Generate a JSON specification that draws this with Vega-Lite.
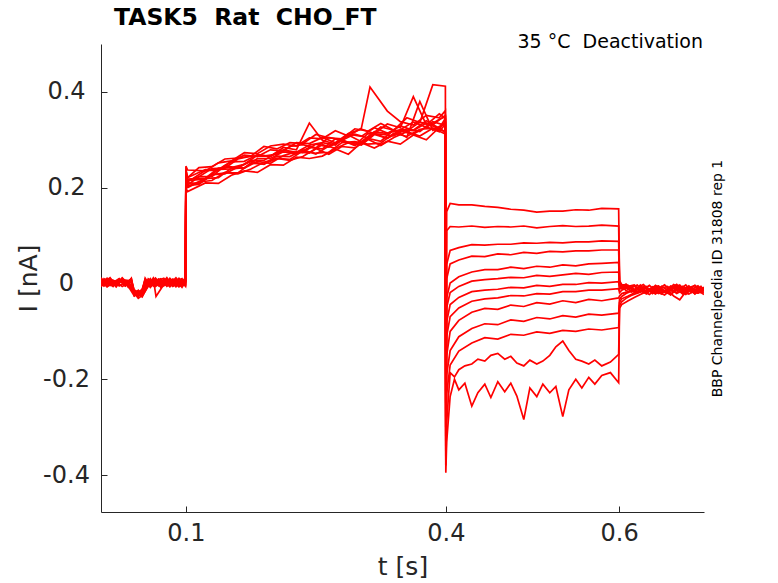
{
"$schema": "https://vega.github.io/schema/vega-lite/v6.json",
"width": 603, "height": 468,
"autosize": {"type": "none"},
"padding": {"left": 101, "top": 44, "right": 74, "bottom": 71},
"background": "white",
"config": {"view": {"stroke": null}, "font": "DejaVu Sans"},
"title": {"text": "TASK5\u00a0\u00a0Rat\u00a0\u00a0CHO_FT", "anchor": "start", "frame": "group", "dx": 13, "offset": -15, "baseline": "alphabetic", "font": "DejaVu Sans", "fontSize": 23.5, "fontWeight": "bold", "color": "black"},
"data": {"values": [
{"s":1,"t":0.002,"I":0.008},{"s":1,"t":0.0055,"I":-0.004},{"s":1,"t":0.0125,"I":0.01},{"s":1,"t":0.0195,"I":-0.002},{"s":1,"t":0.0265,"I":0.006},{"s":1,"t":0.0335,"I":-0.006},{"s":1,"t":0.0405,"I":-0.018},{"s":1,"t":0.045,"I":-0.022},{"s":1,"t":0.0495,"I":-0.014},{"s":1,"t":0.0565,"I":0.007},{"s":1,"t":0.0625,"I":-0.003},{"s":1,"t":0.0685,"I":0.009},{"s":1,"t":0.0745,"I":-0.005},{"s":1,"t":0.0815,"I":0.011},{"s":1,"t":0.0885,"I":-0.002},{"s":1,"t":0.0955,"I":0.006},{"s":1,"t":0.0995,"I":0.001},
{"s":1,"t":0.1,"I":0.237},{"s":1,"t":0.102,"I":0.221},{"s":1,"t":0.1225,"I":0.238},{"s":1,"t":0.1375,"I":0.238},{"s":1,"t":0.1525,"I":0.255},{"s":1,"t":0.1675,"I":0.268},{"s":1,"t":0.1825,"I":0.265},{"s":1,"t":0.1975,"I":0.279},{"s":1,"t":0.2125,"I":0.277},{"s":1,"t":0.2275,"I":0.294},{"s":1,"t":0.2425,"I":0.292},{"s":1,"t":0.2575,"I":0.305},{"s":1,"t":0.2725,"I":0.294},{"s":1,"t":0.2875,"I":0.313},{"s":1,"t":0.3025,"I":0.322},{"s":1,"t":0.3175,"I":0.313},{"s":1,"t":0.3325,"I":0.333},{"s":1,"t":0.3475,"I":0.325},{"s":1,"t":0.3625,"I":0.39},{"s":1,"t":0.3775,"I":0.331},{"s":1,"t":0.3925,"I":0.354},{"s":1,"t":0.3995,"I":0.345},
{"s":1,"t":0.4,"I":-0.2},{"s":1,"t":0.401,"I":0.15},{"s":1,"t":0.405,"I":0.167},{"s":1,"t":0.415,"I":0.164},{"s":1,"t":0.43,"I":0.164},{"s":1,"t":0.445,"I":0.161},{"s":1,"t":0.46,"I":0.159},{"s":1,"t":0.475,"I":0.155},{"s":1,"t":0.49,"I":0.153},{"s":1,"t":0.505,"I":0.149},{"s":1,"t":0.52,"I":0.151},{"s":1,"t":0.535,"I":0.151},{"s":1,"t":0.55,"I":0.154},{"s":1,"t":0.565,"I":0.153},{"s":1,"t":0.58,"I":0.157},{"s":1,"t":0.5995,"I":0.156},
{"s":1,"t":0.6005,"I":0.006},{"s":1,"t":0.603,"I":-0.002},{"s":1,"t":0.6105,"I":-0.004},{"s":1,"t":0.6175,"I":-0.016},{"s":1,"t":0.6245,"I":-0.003},{"s":1,"t":0.6315,"I":-0.019},{"s":1,"t":0.6385,"I":-0.008},{"s":1,"t":0.6455,"I":-0.005},{"s":1,"t":0.6525,"I":-0.018},{"s":1,"t":0.6595,"I":-0.01},{"s":1,"t":0.6665,"I":-0.002},{"s":1,"t":0.6735,"I":-0.017},{"s":1,"t":0.6805,"I":-0.007},{"s":1,"t":0.6875,"I":-0.021},{"s":1,"t":0.6945,"I":-0.009},{"s":1,"t":0.698,"I":-0.012},
{"s":2,"t":0.002,"I":-0.003},{"s":2,"t":0.009,"I":0.009},{"s":2,"t":0.016,"I":-0.006},{"s":2,"t":0.023,"I":0.007},{"s":2,"t":0.03,"I":-0.005},{"s":2,"t":0.037,"I":0.011},{"s":2,"t":0.0405,"I":-0.024},{"s":2,"t":0.045,"I":-0.016},{"s":2,"t":0.0495,"I":-0.02},{"s":2,"t":0.053,"I":-0.004},{"s":2,"t":0.059,"I":0.01},{"s":2,"t":0.065,"I":-0.006},{"s":2,"t":0.071,"I":0.008},{"s":2,"t":0.078,"I":-0.003},{"s":2,"t":0.085,"I":0.009},{"s":2,"t":0.092,"I":-0.007},{"s":2,"t":0.0995,"I":0.005},
{"s":2,"t":0.1,"I":0.21},{"s":2,"t":0.102,"I":0.21},{"s":2,"t":0.115,"I":0.209},{"s":2,"t":0.13,"I":0.227},{"s":2,"t":0.145,"I":0.229},{"s":2,"t":0.16,"I":0.243},{"s":2,"t":0.175,"I":0.255},{"s":2,"t":0.19,"I":0.249},{"s":2,"t":0.205,"I":0.266},{"s":2,"t":0.22,"I":0.265},{"s":2,"t":0.235,"I":0.279},{"s":2,"t":0.25,"I":0.27},{"s":2,"t":0.265,"I":0.287},{"s":2,"t":0.28,"I":0.299},{"s":2,"t":0.295,"I":0.288},{"s":2,"t":0.31,"I":0.303},{"s":2,"t":0.325,"I":0.297},{"s":2,"t":0.34,"I":0.321},{"s":2,"t":0.355,"I":0.305},{"s":2,"t":0.37,"I":0.38},{"s":2,"t":0.385,"I":0.32},{"s":2,"t":0.3995,"I":0.335},
{"s":2,"t":0.4,"I":-0.25},{"s":2,"t":0.401,"I":0.11},{"s":2,"t":0.405,"I":0.119},{"s":2,"t":0.415,"I":0.118},{"s":2,"t":0.43,"I":0.12},{"s":2,"t":0.445,"I":0.117},{"s":2,"t":0.46,"I":0.119},{"s":2,"t":0.475,"I":0.118},{"s":2,"t":0.49,"I":0.12},{"s":2,"t":0.505,"I":0.116},{"s":2,"t":0.52,"I":0.119},{"s":2,"t":0.535,"I":0.121},{"s":2,"t":0.55,"I":0.119},{"s":2,"t":0.565,"I":0.12},{"s":2,"t":0.58,"I":0.122},{"s":2,"t":0.5995,"I":0.12},
{"s":2,"t":0.6005,"I":0.004},{"s":2,"t":0.603,"I":-0.006},{"s":2,"t":0.608,"I":-0.001},{"s":2,"t":0.614,"I":-0.012},{"s":2,"t":0.621,"I":-0.02},{"s":2,"t":0.628,"I":-0.006},{"s":2,"t":0.635,"I":-0.015},{"s":2,"t":0.642,"I":-0.004},{"s":2,"t":0.649,"I":-0.013},{"s":2,"t":0.656,"I":-0.02},{"s":2,"t":0.663,"I":-0.008},{"s":2,"t":0.67,"I":-0.003},{"s":2,"t":0.677,"I":-0.016},{"s":2,"t":0.684,"I":-0.009},{"s":2,"t":0.691,"I":-0.019},{"s":2,"t":0.698,"I":-0.01},
{"s":3,"t":0.002,"I":0.005},{"s":3,"t":0.0055,"I":-0.002},{"s":3,"t":0.0125,"I":0.008},{"s":3,"t":0.0195,"I":-0.007},{"s":3,"t":0.0265,"I":0.012},{"s":3,"t":0.0335,"I":-0.001},{"s":3,"t":0.0405,"I":-0.02},{"s":3,"t":0.045,"I":-0.031},{"s":3,"t":0.0495,"I":-0.025},{"s":3,"t":0.0565,"I":0.006},{"s":3,"t":0.0625,"I":-0.005},{"s":3,"t":0.0685,"I":0.007},{"s":3,"t":0.0745,"I":0.011},{"s":3,"t":0.0815,"I":-0.004},{"s":3,"t":0.0885,"I":0.008},{"s":3,"t":0.0955,"I":-0.002},{"s":3,"t":0.0995,"I":0.01},
{"s":3,"t":0.1,"I":0.227},{"s":3,"t":0.102,"I":0.218},{"s":3,"t":0.1225,"I":0.22},{"s":3,"t":0.1375,"I":0.241},{"s":3,"t":0.1525,"I":0.242},{"s":3,"t":0.1675,"I":0.249},{"s":3,"t":0.1825,"I":0.268},{"s":3,"t":0.1975,"I":0.266},{"s":3,"t":0.2125,"I":0.279},{"s":3,"t":0.2275,"I":0.274},{"s":3,"t":0.2425,"I":0.289},{"s":3,"t":0.2575,"I":0.294},{"s":3,"t":0.2725,"I":0.289},{"s":3,"t":0.2875,"I":0.31},{"s":3,"t":0.3025,"I":0.296},{"s":3,"t":0.3175,"I":0.317},{"s":3,"t":0.3325,"I":0.313},{"s":3,"t":0.3475,"I":0.329},{"s":3,"t":0.3625,"I":0.32},{"s":3,"t":0.3775,"I":0.34},{"s":3,"t":0.3925,"I":0.324},{"s":3,"t":0.3995,"I":0.345},
{"s":3,"t":0.4,"I":-0.3},{"s":3,"t":0.401,"I":0.04},{"s":3,"t":0.405,"I":0.069},{"s":3,"t":0.415,"I":0.075},{"s":3,"t":0.43,"I":0.081},{"s":3,"t":0.445,"I":0.08},{"s":3,"t":0.46,"I":0.082},{"s":3,"t":0.475,"I":0.082},{"s":3,"t":0.49,"I":0.085},{"s":3,"t":0.505,"I":0.084},{"s":3,"t":0.52,"I":0.086},{"s":3,"t":0.535,"I":0.085},{"s":3,"t":0.55,"I":0.087},{"s":3,"t":0.565,"I":0.087},{"s":3,"t":0.58,"I":0.089},{"s":3,"t":0.5995,"I":0.088},
{"s":3,"t":0.6005,"I":0.001},{"s":3,"t":0.603,"I":-0.003},{"s":3,"t":0.6105,"I":-0.012},{"s":3,"t":0.6175,"I":-0.005},{"s":3,"t":0.6245,"I":-0.017},{"s":3,"t":0.6315,"I":-0.008},{"s":3,"t":0.6385,"I":-0.021},{"s":3,"t":0.6455,"I":-0.011},{"s":3,"t":0.6525,"I":-0.003},{"s":3,"t":0.6595,"I":-0.015},{"s":3,"t":0.6665,"I":-0.019},{"s":3,"t":0.6735,"I":-0.006},{"s":3,"t":0.6805,"I":-0.013},{"s":3,"t":0.6875,"I":-0.004},{"s":3,"t":0.6945,"I":-0.018},{"s":3,"t":0.698,"I":-0.011},
{"s":4,"t":0.002,"I":-0.006},{"s":4,"t":0.009,"I":0.006},{"s":4,"t":0.016,"I":-0.001},{"s":4,"t":0.023,"I":0.009},{"s":4,"t":0.03,"I":-0.004},{"s":4,"t":0.037,"I":0.007},{"s":4,"t":0.0405,"I":-0.015},{"s":4,"t":0.045,"I":-0.019},{"s":4,"t":0.0495,"I":-0.012},{"s":4,"t":0.053,"I":0.009},{"s":4,"t":0.059,"I":-0.002},{"s":4,"t":0.065,"I":-0.006},{"s":4,"t":0.071,"I":0.004},{"s":4,"t":0.078,"I":0.01},{"s":4,"t":0.085,"I":-0.005},{"s":4,"t":0.092,"I":0.011},{"s":4,"t":0.0995,"I":-0.003},
{"s":4,"t":0.1,"I":0.201},{"s":4,"t":0.102,"I":0.2},{"s":4,"t":0.115,"I":0.212},{"s":4,"t":0.13,"I":0.215},{"s":4,"t":0.145,"I":0.232},{"s":4,"t":0.16,"I":0.229},{"s":4,"t":0.175,"I":0.239},{"s":4,"t":0.19,"I":0.253},{"s":4,"t":0.205,"I":0.261},{"s":4,"t":0.22,"I":0.257},{"s":4,"t":0.235,"I":0.265},{"s":4,"t":0.25,"I":0.282},{"s":4,"t":0.265,"I":0.27},{"s":4,"t":0.28,"I":0.286},{"s":4,"t":0.295,"I":0.283},{"s":4,"t":0.31,"I":0.301},{"s":4,"t":0.325,"I":0.288},{"s":4,"t":0.34,"I":0.305},{"s":4,"t":0.355,"I":0.317},{"s":4,"t":0.37,"I":0.308},{"s":4,"t":0.385,"I":0.324},{"s":4,"t":0.3995,"I":0.312},
{"s":4,"t":0.4,"I":-0.28},{"s":4,"t":0.401,"I":0.01},{"s":4,"t":0.405,"I":0.041},{"s":4,"t":0.415,"I":0.049},{"s":4,"t":0.43,"I":0.057},{"s":4,"t":0.445,"I":0.056},{"s":4,"t":0.46,"I":0.062},{"s":4,"t":0.475,"I":0.06},{"s":4,"t":0.49,"I":0.065},{"s":4,"t":0.505,"I":0.063},{"s":4,"t":0.52,"I":0.067},{"s":4,"t":0.535,"I":0.066},{"s":4,"t":0.55,"I":0.068},{"s":4,"t":0.565,"I":0.068},{"s":4,"t":0.58,"I":0.07},{"s":4,"t":0.5995,"I":0.07},
{"s":4,"t":0.6005,"I":-0.002},{"s":4,"t":0.603,"I":-0.009},{"s":4,"t":0.608,"I":-0.004},{"s":4,"t":0.614,"I":-0.018},{"s":4,"t":0.621,"I":-0.009},{"s":4,"t":0.628,"I":-0.002},{"s":4,"t":0.635,"I":-0.014},{"s":4,"t":0.642,"I":-0.021},{"s":4,"t":0.649,"I":-0.01},{"s":4,"t":0.656,"I":-0.006},{"s":4,"t":0.663,"I":-0.017},{"s":4,"t":0.67,"I":-0.012},{"s":4,"t":0.677,"I":-0.003},{"s":4,"t":0.684,"I":-0.019},{"s":4,"t":0.691,"I":-0.008},{"s":4,"t":0.698,"I":-0.014},
{"s":5,"t":0.002,"I":0.01},{"s":5,"t":0.0055,"I":-0.005},{"s":5,"t":0.0125,"I":0.004},{"s":5,"t":0.0195,"I":-0.003},{"s":5,"t":0.0265,"I":0.009},{"s":5,"t":0.0335,"I":-0.006},{"s":5,"t":0.0405,"I":-0.026},{"s":5,"t":0.045,"I":-0.021},{"s":5,"t":0.0495,"I":-0.028},{"s":5,"t":0.0565,"I":-0.003},{"s":5,"t":0.0625,"I":0.008},{"s":5,"t":0.0655,"I":-0.027},{"s":5,"t":0.0745,"I":-0.002},{"s":5,"t":0.0815,"I":0.006},{"s":5,"t":0.0885,"I":-0.004},{"s":5,"t":0.0955,"I":0.008},{"s":5,"t":0.0995,"I":-0.001},
{"s":5,"t":0.1,"I":0.245},{"s":5,"t":0.102,"I":0.237},{"s":5,"t":0.1225,"I":0.235},{"s":5,"t":0.1375,"I":0.252},{"s":5,"t":0.1525,"I":0.256},{"s":5,"t":0.1675,"I":0.273},{"s":5,"t":0.1825,"I":0.271},{"s":5,"t":0.1975,"I":0.287},{"s":5,"t":0.2125,"I":0.291},{"s":5,"t":0.2275,"I":0.287},{"s":5,"t":0.2425,"I":0.304},{"s":5,"t":0.2575,"I":0.302},{"s":5,"t":0.2725,"I":0.319},{"s":5,"t":0.2875,"I":0.308},{"s":5,"t":0.3025,"I":0.324},{"s":5,"t":0.3125,"I":0.41},{"s":5,"t":0.3325,"I":0.36},{"s":5,"t":0.3475,"I":0.338},{"s":5,"t":0.3625,"I":0.331},{"s":5,"t":0.3775,"I":0.351},{"s":5,"t":0.3925,"I":0.346},{"s":5,"t":0.3995,"I":0.361},
{"s":5,"t":0.4,"I":-0.32},{"s":5,"t":0.401,"I":-0.03},{"s":5,"t":0.405,"I":0.001},{"s":5,"t":0.415,"I":0.014},{"s":5,"t":0.43,"I":0.024},{"s":5,"t":0.445,"I":0.029},{"s":5,"t":0.46,"I":0.029},{"s":5,"t":0.475,"I":0.034},{"s":5,"t":0.49,"I":0.031},{"s":5,"t":0.505,"I":0.036},{"s":5,"t":0.52,"I":0.034},{"s":5,"t":0.535,"I":0.039},{"s":5,"t":0.55,"I":0.037},{"s":5,"t":0.565,"I":0.041},{"s":5,"t":0.58,"I":0.042},{"s":5,"t":0.5995,"I":0.044},
{"s":5,"t":0.6005,"I":-0.005},{"s":5,"t":0.603,"I":-0.011},{"s":5,"t":0.6105,"I":-0.006},{"s":5,"t":0.6175,"I":-0.003},{"s":5,"t":0.6245,"I":-0.015},{"s":5,"t":0.6315,"I":-0.02},{"s":5,"t":0.6385,"I":-0.007},{"s":5,"t":0.6455,"I":-0.013},{"s":5,"t":0.6525,"I":-0.018},{"s":5,"t":0.6595,"I":-0.005},{"s":5,"t":0.6665,"I":-0.011},{"s":5,"t":0.6735,"I":-0.022},{"s":5,"t":0.6805,"I":-0.009},{"s":5,"t":0.6875,"I":-0.004},{"s":5,"t":0.6945,"I":-0.016},{"s":5,"t":0.698,"I":-0.012},
{"s":6,"t":0.002,"I":0.001},{"s":6,"t":0.009,"I":0.011},{"s":6,"t":0.016,"I":-0.005},{"s":6,"t":0.023,"I":0.005},{"s":6,"t":0.03,"I":-0.002},{"s":6,"t":0.037,"I":0.01},{"s":6,"t":0.0405,"I":-0.017},{"s":6,"t":0.045,"I":-0.025},{"s":6,"t":0.0495,"I":-0.018},{"s":6,"t":0.053,"I":0.011},{"s":6,"t":0.059,"I":-0.006},{"s":6,"t":0.065,"I":0.004},{"s":6,"t":0.071,"I":-0.007},{"s":6,"t":0.078,"I":0.009},{"s":6,"t":0.085,"I":0.001},{"s":6,"t":0.092,"I":-0.005},{"s":6,"t":0.0995,"I":0.007},
{"s":6,"t":0.1,"I":0.222},{"s":6,"t":0.102,"I":0.206},{"s":6,"t":0.115,"I":0.223},{"s":6,"t":0.13,"I":0.223},{"s":6,"t":0.145,"I":0.246},{"s":6,"t":0.16,"I":0.241},{"s":6,"t":0.175,"I":0.257},{"s":6,"t":0.19,"I":0.257},{"s":6,"t":0.205,"I":0.274},{"s":6,"t":0.22,"I":0.275},{"s":6,"t":0.235,"I":0.273},{"s":6,"t":0.25,"I":0.291},{"s":6,"t":0.265,"I":0.285},{"s":6,"t":0.28,"I":0.3},{"s":6,"t":0.295,"I":0.289},{"s":6,"t":0.31,"I":0.313},{"s":6,"t":0.325,"I":0.312},{"s":6,"t":0.34,"I":0.308},{"s":6,"t":0.355,"I":0.323},{"s":6,"t":0.37,"I":0.317},{"s":6,"t":0.385,"I":0.338},{"s":6,"t":0.3995,"I":0.33},
{"s":6,"t":0.4,"I":-0.3},{"s":6,"t":0.401,"I":-0.05},{"s":6,"t":0.405,"I":-0.019},{"s":6,"t":0.415,"I":-0.006},{"s":6,"t":0.43,"I":0.005},{"s":6,"t":0.445,"I":0.008},{"s":6,"t":0.46,"I":0.01},{"s":6,"t":0.475,"I":0.013},{"s":6,"t":0.49,"I":0.012},{"s":6,"t":0.505,"I":0.017},{"s":6,"t":0.52,"I":0.015},{"s":6,"t":0.535,"I":0.018},{"s":6,"t":0.55,"I":0.021},{"s":6,"t":0.565,"I":0.019},{"s":6,"t":0.58,"I":0.023},{"s":6,"t":0.5995,"I":0.024},
{"s":6,"t":0.6005,"I":-0.008},{"s":6,"t":0.603,"I":-0.004},{"s":6,"t":0.608,"I":-0.015},{"s":6,"t":0.614,"I":-0.009},{"s":6,"t":0.621,"I":-0.003},{"s":6,"t":0.628,"I":-0.017},{"s":6,"t":0.635,"I":-0.011},{"s":6,"t":0.642,"I":-0.019},{"s":6,"t":0.649,"I":-0.006},{"s":6,"t":0.656,"I":-0.014},{"s":6,"t":0.663,"I":-0.002},{"s":6,"t":0.67,"I":-0.01},{"s":6,"t":0.677,"I":-0.02},{"s":6,"t":0.684,"I":-0.012},{"s":6,"t":0.691,"I":-0.005},{"s":6,"t":0.698,"I":-0.016},
{"s":7,"t":0.002,"I":-0.004},{"s":7,"t":0.0055,"I":0.003},{"s":7,"t":0.0125,"I":0.012},{"s":7,"t":0.0195,"I":-0.006},{"s":7,"t":0.0265,"I":0.007},{"s":7,"t":0.0335,"I":-0.003},{"s":7,"t":0.0405,"I":-0.022},{"s":7,"t":0.045,"I":-0.014},{"s":7,"t":0.0495,"I":-0.024},{"s":7,"t":0.0565,"I":-0.002},{"s":7,"t":0.0625,"I":0.005},{"s":7,"t":0.0685,"I":0.009},{"s":7,"t":0.0745,"I":-0.004},{"s":7,"t":0.0815,"I":-0.001},{"s":7,"t":0.0885,"I":0.012},{"s":7,"t":0.0955,"I":-0.003},{"s":7,"t":0.0995,"I":0.004},
{"s":7,"t":0.1,"I":0.231},{"s":7,"t":0.102,"I":0.212},{"s":7,"t":0.1225,"I":0.236},{"s":7,"t":0.1375,"I":0.236},{"s":7,"t":0.1525,"I":0.254},{"s":7,"t":0.1675,"I":0.255},{"s":7,"t":0.1825,"I":0.269},{"s":7,"t":0.1975,"I":0.265},{"s":7,"t":0.2125,"I":0.284},{"s":7,"t":0.2275,"I":0.279},{"s":7,"t":0.2425,"I":0.335},{"s":7,"t":0.2575,"I":0.299},{"s":7,"t":0.2725,"I":0.291},{"s":7,"t":0.2875,"I":0.312},{"s":7,"t":0.3025,"I":0.307},{"s":7,"t":0.3175,"I":0.325},{"s":7,"t":0.3325,"I":0.314},{"s":7,"t":0.3475,"I":0.321},{"s":7,"t":0.3625,"I":0.337},{"s":7,"t":0.3775,"I":0.326},{"s":7,"t":0.3925,"I":0.343},{"s":7,"t":0.3995,"I":0.348},
{"s":7,"t":0.4,"I":-0.33},{"s":7,"t":0.401,"I":-0.08},{"s":7,"t":0.405,"I":-0.044},{"s":7,"t":0.415,"I":-0.029},{"s":7,"t":0.43,"I":-0.017},{"s":7,"t":0.445,"I":-0.014},{"s":7,"t":0.46,"I":-0.012},{"s":7,"t":0.475,"I":-0.008},{"s":7,"t":0.49,"I":-0.009},{"s":7,"t":0.505,"I":-0.004},{"s":7,"t":0.52,"I":-0.006},{"s":7,"t":0.535,"I":-0.002},{"s":7,"t":0.55,"I":-0.002},{"s":7,"t":0.565,"I":0.002},{"s":7,"t":0.58,"I":0.001},{"s":7,"t":0.5995,"I":0.004},
{"s":7,"t":0.6005,"I":-0.012},{"s":7,"t":0.603,"I":-0.009},{"s":7,"t":0.6105,"I":-0.005},{"s":7,"t":0.6175,"I":-0.016},{"s":7,"t":0.6245,"I":-0.011},{"s":7,"t":0.6315,"I":-0.006},{"s":7,"t":0.6385,"I":-0.02},{"s":7,"t":0.6455,"I":-0.009},{"s":7,"t":0.6525,"I":-0.015},{"s":7,"t":0.6595,"I":-0.023},{"s":7,"t":0.6665,"I":-0.008},{"s":7,"t":0.6735,"I":-0.014},{"s":7,"t":0.6805,"I":-0.005},{"s":7,"t":0.6875,"I":-0.017},{"s":7,"t":0.6945,"I":-0.011},{"s":7,"t":0.698,"I":-0.008},
{"s":8,"t":0.002,"I":0.007},{"s":8,"t":0.009,"I":-0.007},{"s":8,"t":0.016,"I":0.002},{"s":8,"t":0.023,"I":0.01},{"s":8,"t":0.03,"I":-0.005},{"s":8,"t":0.037,"I":0.004},{"s":8,"t":0.0405,"I":-0.019},{"s":8,"t":0.045,"I":-0.028},{"s":8,"t":0.0495,"I":-0.016},{"s":8,"t":0.053,"I":0.004},{"s":8,"t":0.059,"I":-0.008},{"s":8,"t":0.065,"I":0.006},{"s":8,"t":0.071,"I":0.01},{"s":8,"t":0.078,"I":-0.006},{"s":8,"t":0.085,"I":0.003},{"s":8,"t":0.092,"I":0.009},{"s":8,"t":0.0995,"I":-0.006},
{"s":8,"t":0.1,"I":0.202},{"s":8,"t":0.102,"I":0.205},{"s":8,"t":0.115,"I":0.207},{"s":8,"t":0.13,"I":0.227},{"s":8,"t":0.145,"I":0.231},{"s":8,"t":0.16,"I":0.231},{"s":8,"t":0.175,"I":0.251},{"s":8,"t":0.19,"I":0.249},{"s":8,"t":0.205,"I":0.261},{"s":8,"t":0.22,"I":0.259},{"s":8,"t":0.235,"I":0.277},{"s":8,"t":0.25,"I":0.272},{"s":8,"t":0.265,"I":0.274},{"s":8,"t":0.28,"I":0.294},{"s":8,"t":0.295,"I":0.296},{"s":8,"t":0.31,"I":0.291},{"s":8,"t":0.325,"I":0.293},{"s":8,"t":0.34,"I":0.314},{"s":8,"t":0.355,"I":0.307},{"s":8,"t":0.37,"I":0.322},{"s":8,"t":0.385,"I":0.324},{"s":8,"t":0.3995,"I":0.318},
{"s":8,"t":0.4,"I":-0.34},{"s":8,"t":0.401,"I":-0.11},{"s":8,"t":0.405,"I":-0.069},{"s":8,"t":0.415,"I":-0.051},{"s":8,"t":0.43,"I":-0.037},{"s":8,"t":0.445,"I":-0.032},{"s":8,"t":0.46,"I":-0.03},{"s":8,"t":0.475,"I":-0.025},{"s":8,"t":0.49,"I":-0.026},{"s":8,"t":0.505,"I":-0.021},{"s":8,"t":0.52,"I":-0.022},{"s":8,"t":0.535,"I":-0.017},{"s":8,"t":0.55,"I":-0.017},{"s":8,"t":0.565,"I":-0.014},{"s":8,"t":0.58,"I":-0.014},{"s":8,"t":0.5995,"I":-0.011},
{"s":8,"t":0.6005,"I":-0.019},{"s":8,"t":0.603,"I":-0.014},{"s":8,"t":0.608,"I":-0.01},{"s":8,"t":0.614,"I":-0.007},{"s":8,"t":0.621,"I":-0.018},{"s":8,"t":0.628,"I":-0.012},{"s":8,"t":0.635,"I":-0.004},{"s":8,"t":0.642,"I":-0.016},{"s":8,"t":0.649,"I":-0.022},{"s":8,"t":0.656,"I":-0.01},{"s":8,"t":0.663,"I":-0.015},{"s":8,"t":0.67,"I":-0.006},{"s":8,"t":0.677,"I":-0.018},{"s":8,"t":0.684,"I":-0.011},{"s":8,"t":0.691,"I":-0.02},{"s":8,"t":0.698,"I":-0.013},
{"s":9,"t":0.002,"I":-0.001},{"s":9,"t":0.0055,"I":0.008},{"s":9,"t":0.0125,"I":-0.003},{"s":9,"t":0.0195,"I":0.001},{"s":9,"t":0.0265,"I":0.011},{"s":9,"t":0.0335,"I":-0.008},{"s":9,"t":0.0405,"I":-0.013},{"s":9,"t":0.045,"I":-0.02},{"s":9,"t":0.0495,"I":-0.022},{"s":9,"t":0.0565,"I":-0.005},{"s":9,"t":0.0625,"I":0.012},{"s":9,"t":0.0685,"I":-0.003},{"s":9,"t":0.0745,"I":0.002},{"s":9,"t":0.0815,"I":0.008},{"s":9,"t":0.0885,"I":-0.007},{"s":9,"t":0.0955,"I":0.004},{"s":9,"t":0.0995,"I":0.012},
{"s":9,"t":0.1,"I":0.215},{"s":9,"t":0.102,"I":0.215},{"s":9,"t":0.1225,"I":0.218},{"s":9,"t":0.1375,"I":0.238},{"s":9,"t":0.1525,"I":0.239},{"s":9,"t":0.1675,"I":0.242},{"s":9,"t":0.1825,"I":0.261},{"s":9,"t":0.1975,"I":0.261},{"s":9,"t":0.2125,"I":0.275},{"s":9,"t":0.2275,"I":0.27},{"s":9,"t":0.2425,"I":0.284},{"s":9,"t":0.2575,"I":0.281},{"s":9,"t":0.2725,"I":0.302},{"s":9,"t":0.2875,"I":0.293},{"s":9,"t":0.3025,"I":0.294},{"s":9,"t":0.3175,"I":0.313},{"s":9,"t":0.3325,"I":0.303},{"s":9,"t":0.3475,"I":0.321},{"s":9,"t":0.3625,"I":0.319},{"s":9,"t":0.3775,"I":0.335},{"s":9,"t":0.3925,"I":0.322},{"s":9,"t":0.3995,"I":0.339},
{"s":9,"t":0.4,"I":-0.35},{"s":9,"t":0.401,"I":-0.15},{"s":9,"t":0.405,"I":-0.1},{"s":9,"t":0.415,"I":-0.077},{"s":9,"t":0.43,"I":-0.06},{"s":9,"t":0.445,"I":-0.052},{"s":9,"t":0.46,"I":-0.054},{"s":9,"t":0.475,"I":-0.045},{"s":9,"t":0.49,"I":-0.048},{"s":9,"t":0.505,"I":-0.04},{"s":9,"t":0.52,"I":-0.043},{"s":9,"t":0.535,"I":-0.036},{"s":9,"t":0.55,"I":-0.04},{"s":9,"t":0.565,"I":-0.033},{"s":9,"t":0.58,"I":-0.036},{"s":9,"t":0.5995,"I":-0.03},
{"s":9,"t":0.6005,"I":-0.026},{"s":9,"t":0.603,"I":-0.021},{"s":9,"t":0.6105,"I":-0.017},{"s":9,"t":0.6175,"I":-0.012},{"s":9,"t":0.6245,"I":-0.008},{"s":9,"t":0.6315,"I":-0.019},{"s":9,"t":0.6385,"I":-0.013},{"s":9,"t":0.6455,"I":-0.006},{"s":9,"t":0.6525,"I":-0.017},{"s":9,"t":0.6595,"I":-0.011},{"s":9,"t":0.6665,"I":-0.021},{"s":9,"t":0.6735,"I":-0.014},{"s":9,"t":0.6805,"I":-0.009},{"s":9,"t":0.6875,"I":-0.022},{"s":9,"t":0.6945,"I":-0.006},{"s":9,"t":0.698,"I":-0.015},
{"s":10,"t":0.002,"I":0.004},{"s":10,"t":0.009,"I":-0.006},{"s":10,"t":0.016,"I":0.006},{"s":10,"t":0.023,"I":-0.005},{"s":10,"t":0.03,"I":0.002},{"s":10,"t":0.037,"I":0.009},{"s":10,"t":0.0405,"I":-0.025},{"s":10,"t":0.045,"I":-0.018},{"s":10,"t":0.0495,"I":-0.015},{"s":10,"t":0.053,"I":0.008},{"s":10,"t":0.059,"I":-0.001},{"s":10,"t":0.065,"I":0.01},{"s":10,"t":0.071,"I":-0.008},{"s":10,"t":0.078,"I":0.003},{"s":10,"t":0.085,"I":0.009},{"s":10,"t":0.092,"I":-0.006},{"s":10,"t":0.0995,"I":0.002},
{"s":10,"t":0.1,"I":0.237},{"s":10,"t":0.102,"I":0.221},{"s":10,"t":0.115,"I":0.242},{"s":10,"t":0.13,"I":0.244},{"s":10,"t":0.145,"I":0.26},{"s":10,"t":0.16,"I":0.262},{"s":10,"t":0.175,"I":0.266},{"s":10,"t":0.19,"I":0.286},{"s":10,"t":0.205,"I":0.281},{"s":10,"t":0.22,"I":0.294},{"s":10,"t":0.235,"I":0.292},{"s":10,"t":0.25,"I":0.311},{"s":10,"t":0.265,"I":0.304},{"s":10,"t":0.28,"I":0.302},{"s":10,"t":0.295,"I":0.323},{"s":10,"t":0.31,"I":0.318},{"s":10,"t":0.325,"I":0.334},{"s":10,"t":0.34,"I":0.32},{"s":10,"t":0.355,"I":0.346},{"s":10,"t":0.37,"I":0.336},{"s":10,"t":0.385,"I":0.415},{"s":10,"t":0.3995,"I":0.412},
{"s":10,"t":0.4,"I":-0.36},{"s":10,"t":0.401,"I":-0.19},{"s":10,"t":0.405,"I":-0.14},{"s":10,"t":0.415,"I":-0.111},{"s":10,"t":0.43,"I":-0.094},{"s":10,"t":0.445,"I":-0.084},{"s":10,"t":0.46,"I":-0.086},{"s":10,"t":0.475,"I":-0.076},{"s":10,"t":0.49,"I":-0.079},{"s":10,"t":0.505,"I":-0.071},{"s":10,"t":0.52,"I":-0.074},{"s":10,"t":0.535,"I":-0.067},{"s":10,"t":0.55,"I":-0.07},{"s":10,"t":0.565,"I":-0.064},{"s":10,"t":0.58,"I":-0.066},{"s":10,"t":0.5995,"I":-0.062},
{"s":10,"t":0.6005,"I":-0.033},{"s":10,"t":0.603,"I":-0.027},{"s":10,"t":0.608,"I":-0.021},{"s":10,"t":0.614,"I":-0.016},{"s":10,"t":0.621,"I":-0.02},{"s":10,"t":0.628,"I":-0.009},{"s":10,"t":0.635,"I":-0.015},{"s":10,"t":0.642,"I":-0.022},{"s":10,"t":0.649,"I":-0.012},{"s":10,"t":0.656,"I":-0.018},{"s":10,"t":0.663,"I":-0.007},{"s":10,"t":0.67,"I":-0.016},{"s":10,"t":0.677,"I":-0.023},{"s":10,"t":0.684,"I":-0.01},{"s":10,"t":0.691,"I":-0.014},{"s":10,"t":0.698,"I":-0.019},
{"s":11,"t":0.002,"I":-0.007},{"s":11,"t":0.0055,"I":0.002},{"s":11,"t":0.0125,"I":0.009},{"s":11,"t":0.0195,"I":0.004},{"s":11,"t":0.0265,"I":-0.006},{"s":11,"t":0.0335,"I":0.001},{"s":11,"t":0.0405,"I":-0.016},{"s":11,"t":0.045,"I":-0.023},{"s":11,"t":0.0495,"I":-0.027},{"s":11,"t":0.0565,"I":-0.006},{"s":11,"t":0.0625,"I":0.007},{"s":11,"t":0.0685,"I":-0.002},{"s":11,"t":0.0745,"I":0.006},{"s":11,"t":0.0815,"I":-0.007},{"s":11,"t":0.0885,"I":0.004},{"s":11,"t":0.0955,"I":0.01},{"s":11,"t":0.0995,"I":-0.004},
{"s":11,"t":0.1,"I":0.199},{"s":11,"t":0.102,"I":0.192},{"s":11,"t":0.1225,"I":0.21},{"s":11,"t":0.1375,"I":0.209},{"s":11,"t":0.1525,"I":0.226},{"s":11,"t":0.1675,"I":0.235},{"s":11,"t":0.1825,"I":0.232},{"s":11,"t":0.1975,"I":0.248},{"s":11,"t":0.2125,"I":0.247},{"s":11,"t":0.2275,"I":0.264},{"s":11,"t":0.2425,"I":0.261},{"s":11,"t":0.2575,"I":0.266},{"s":11,"t":0.2725,"I":0.281},{"s":11,"t":0.2875,"I":0.27},{"s":11,"t":0.3025,"I":0.294},{"s":11,"t":0.3175,"I":0.283},{"s":11,"t":0.3325,"I":0.297},{"s":11,"t":0.3475,"I":0.291},{"s":11,"t":0.3625,"I":0.31},{"s":11,"t":0.3775,"I":0.3},{"s":11,"t":0.3925,"I":0.326},{"s":11,"t":0.3995,"I":0.314},
{"s":11,"t":0.4,"I":-0.37},{"s":11,"t":0.401,"I":-0.23},{"s":11,"t":0.405,"I":-0.17},{"s":11,"t":0.415,"I":-0.141},{"s":11,"t":0.43,"I":-0.124},{"s":11,"t":0.445,"I":-0.113},{"s":11,"t":0.46,"I":-0.116},{"s":11,"t":0.475,"I":-0.106},{"s":11,"t":0.49,"I":-0.108},{"s":11,"t":0.505,"I":-0.101},{"s":11,"t":0.52,"I":-0.104},{"s":11,"t":0.535,"I":-0.098},{"s":11,"t":0.55,"I":-0.1},{"s":11,"t":0.565,"I":-0.095},{"s":11,"t":0.58,"I":-0.097},{"s":11,"t":0.5995,"I":-0.092},
{"s":11,"t":0.6005,"I":-0.039},{"s":11,"t":0.603,"I":-0.032},{"s":11,"t":0.6105,"I":-0.026},{"s":11,"t":0.6175,"I":-0.02},{"s":11,"t":0.6245,"I":-0.014},{"s":11,"t":0.6315,"I":-0.022},{"s":11,"t":0.6385,"I":-0.011},{"s":11,"t":0.6455,"I":-0.018},{"s":11,"t":0.6525,"I":-0.024},{"s":11,"t":0.6595,"I":-0.013},{"s":11,"t":0.6665,"I":-0.008},{"s":11,"t":0.6735,"I":-0.019},{"s":11,"t":0.6805,"I":-0.012},{"s":11,"t":0.6875,"I":-0.021},{"s":11,"t":0.6945,"I":-0.016},{"s":11,"t":0.698,"I":-0.009},
{"s":12,"t":0.002,"I":0.012},{"s":12,"t":0.009,"I":-0.003},{"s":12,"t":0.016,"I":-0.005},{"s":12,"t":0.023,"I":0.008},{"s":12,"t":0.03,"I":0.003},{"s":12,"t":0.037,"I":-0.004},{"s":12,"t":0.0405,"I":-0.021},{"s":12,"t":0.045,"I":-0.026},{"s":12,"t":0.0495,"I":-0.013},{"s":12,"t":0.053,"I":0.003},{"s":12,"t":0.059,"I":-0.004},{"s":12,"t":0.065,"I":0.011},{"s":12,"t":0.071,"I":-0.003},{"s":12,"t":0.078,"I":0.012},{"s":12,"t":0.085,"I":-0.006},{"s":12,"t":0.092,"I":0.002},{"s":12,"t":0.0995,"I":0.008},
{"s":12,"t":0.1,"I":0.23},{"s":12,"t":0.102,"I":0.215},{"s":12,"t":0.115,"I":0.223},{"s":12,"t":0.13,"I":0.24},{"s":12,"t":0.145,"I":0.241},{"s":12,"t":0.16,"I":0.26},{"s":12,"t":0.175,"I":0.266},{"s":12,"t":0.19,"I":0.266},{"s":12,"t":0.205,"I":0.27},{"s":12,"t":0.22,"I":0.286},{"s":12,"t":0.235,"I":0.29},{"s":12,"t":0.25,"I":0.283},{"s":12,"t":0.265,"I":0.305},{"s":12,"t":0.28,"I":0.299},{"s":12,"t":0.295,"I":0.312},{"s":12,"t":0.31,"I":0.304},{"s":12,"t":0.325,"I":0.327},{"s":12,"t":0.34,"I":0.32},{"s":12,"t":0.355,"I":0.318},{"s":12,"t":0.37,"I":0.337},{"s":12,"t":0.385,"I":0.331},{"s":12,"t":0.3995,"I":0.351},
{"s":12,"t":0.4,"I":-0.38},{"s":12,"t":0.401,"I":-0.29},{"s":12,"t":0.405,"I":-0.186},{"s":12,"t":0.41,"I":-0.195},{"s":12,"t":0.415,"I":-0.18},{"s":12,"t":0.422,"I":-0.172},{"s":12,"t":0.43,"I":-0.168},{"s":12,"t":0.437,"I":-0.158},{"s":12,"t":0.445,"I":-0.162},{"s":12,"t":0.452,"I":-0.15},{"s":12,"t":0.46,"I":-0.146},{"s":12,"t":0.468,"I":-0.158},{"s":12,"t":0.475,"I":-0.152},{"s":12,"t":0.482,"I":-0.166},{"s":12,"t":0.49,"I":-0.172},{"s":12,"t":0.497,"I":-0.16},{"s":12,"t":0.505,"I":-0.168},{"s":12,"t":0.512,"I":-0.162},{"s":12,"t":0.52,"I":-0.15},{"s":12,"t":0.527,"I":-0.132},{"s":12,"t":0.535,"I":-0.12},{"s":12,"t":0.542,"I":-0.14},{"s":12,"t":0.55,"I":-0.158},{"s":12,"t":0.557,"I":-0.162},{"s":12,"t":0.565,"I":-0.168},{"s":12,"t":0.572,"I":-0.16},{"s":12,"t":0.58,"I":-0.172},{"s":12,"t":0.59,"I":-0.164},{"s":12,"t":0.5995,"I":-0.148},
{"s":12,"t":0.6005,"I":-0.046},{"s":12,"t":0.603,"I":-0.038},{"s":12,"t":0.608,"I":-0.031},{"s":12,"t":0.614,"I":-0.025},{"s":12,"t":0.621,"I":-0.02},{"s":12,"t":0.628,"I":-0.016},{"s":12,"t":0.635,"I":-0.023},{"s":12,"t":0.642,"I":-0.012},{"s":12,"t":0.649,"I":-0.019},{"s":12,"t":0.656,"I":-0.014},{"s":12,"t":0.663,"I":-0.026},{"s":12,"t":0.67,"I":-0.034},{"s":12,"t":0.677,"I":-0.017},{"s":12,"t":0.684,"I":-0.011},{"s":12,"t":0.691,"I":-0.02},{"s":12,"t":0.698,"I":-0.015},
{"s":13,"t":0.002,"I":-0.002},{"s":13,"t":0.0055,"I":0.01},{"s":13,"t":0.0125,"I":0.001},{"s":13,"t":0.0195,"I":-0.004},{"s":13,"t":0.0265,"I":0.008},{"s":13,"t":0.0335,"I":0.006},{"s":13,"t":0.0405,"I":-0.018},{"s":13,"t":0.045,"I":-0.015},{"s":13,"t":0.0495,"I":-0.021},{"s":13,"t":0.0565,"I":0.01},{"s":13,"t":0.0625,"I":0.002},{"s":13,"t":0.0685,"I":-0.005},{"s":13,"t":0.0745,"I":0.009},{"s":13,"t":0.0815,"I":-0.002},{"s":13,"t":0.0885,"I":0.007},{"s":13,"t":0.0955,"I":-0.008},{"s":13,"t":0.0995,"I":0.003},
{"s":13,"t":0.1,"I":0.221},{"s":13,"t":0.102,"I":0.202},{"s":13,"t":0.1225,"I":0.219},{"s":13,"t":0.1375,"I":0.221},{"s":13,"t":0.1525,"I":0.241},{"s":13,"t":0.1675,"I":0.241},{"s":13,"t":0.1825,"I":0.255},{"s":13,"t":0.1975,"I":0.251},{"s":13,"t":0.2125,"I":0.267},{"s":13,"t":0.2275,"I":0.275},{"s":13,"t":0.2425,"I":0.272},{"s":13,"t":0.2575,"I":0.29},{"s":13,"t":0.2725,"I":0.282},{"s":13,"t":0.2875,"I":0.294},{"s":13,"t":0.3025,"I":0.289},{"s":13,"t":0.3175,"I":0.311},{"s":13,"t":0.3325,"I":0.303},{"s":13,"t":0.3475,"I":0.318},{"s":13,"t":0.3625,"I":0.312},{"s":13,"t":0.3775,"I":0.327},{"s":13,"t":0.3925,"I":0.317},{"s":13,"t":0.3995,"I":0.333},
{"s":13,"t":0.4,"I":-0.395},{"s":13,"t":0.401,"I":-0.33},{"s":13,"t":0.405,"I":-0.236},{"s":13,"t":0.41,"I":-0.2},{"s":13,"t":0.415,"I":-0.222},{"s":13,"t":0.422,"I":-0.208},{"s":13,"t":0.43,"I":-0.256},{"s":13,"t":0.437,"I":-0.228},{"s":13,"t":0.445,"I":-0.21},{"s":13,"t":0.452,"I":-0.238},{"s":13,"t":0.46,"I":-0.205},{"s":13,"t":0.468,"I":-0.226},{"s":13,"t":0.475,"I":-0.208},{"s":13,"t":0.482,"I":-0.235},{"s":13,"t":0.49,"I":-0.284},{"s":13,"t":0.497,"I":-0.218},{"s":13,"t":0.505,"I":-0.236},{"s":13,"t":0.512,"I":-0.21},{"s":13,"t":0.52,"I":-0.228},{"s":13,"t":0.527,"I":-0.215},{"s":13,"t":0.535,"I":-0.278},{"s":13,"t":0.542,"I":-0.222},{"s":13,"t":0.55,"I":-0.2},{"s":13,"t":0.557,"I":-0.218},{"s":13,"t":0.565,"I":-0.196},{"s":13,"t":0.572,"I":-0.21},{"s":13,"t":0.58,"I":-0.192},{"s":13,"t":0.59,"I":-0.186},{"s":13,"t":0.5995,"I":-0.207},
{"s":13,"t":0.6005,"I":-0.052},{"s":13,"t":0.603,"I":-0.044},{"s":13,"t":0.6105,"I":-0.036},{"s":13,"t":0.6175,"I":-0.029},{"s":13,"t":0.6245,"I":-0.023},{"s":13,"t":0.6315,"I":-0.017},{"s":13,"t":0.6385,"I":-0.013},{"s":13,"t":0.6455,"I":-0.021},{"s":13,"t":0.6525,"I":-0.015},{"s":13,"t":0.6595,"I":-0.024},{"s":13,"t":0.6665,"I":-0.012},{"s":13,"t":0.6735,"I":-0.018},{"s":13,"t":0.6805,"I":-0.022},{"s":13,"t":0.6875,"I":-0.014},{"s":13,"t":0.6945,"I":-0.019},{"s":13,"t":0.698,"I":-0.023}
]},
"layer": [
{"mark": {"type": "line", "color": "#ff0000", "strokeWidth": 1.7, "clip": true},
 "encoding": {
  "x": {"field": "t", "type": "quantitative",
   "scale": {"domain": [0.002, 0.698], "nice": false, "zero": false},
   "axis": {"values": [0.1, 0.4, 0.6], "format": ".1f", "title": "t [s]", "grid": false,
    "domainColor": "#262626", "domainWidth": 1, "tickColor": "#262626", "tickSize": -6, "tickWidth": 1,
    "labelFont": "DejaVu Sans", "labelFontSize": 24, "labelColor": "#262626", "labelPadding": 15,
    "titleFont": "DejaVu Sans", "titleFontSize": 25, "titleFontWeight": "normal", "titleColor": "#262626",
    "titleY": 54, "titleBaseline": "middle"}},
  "y": {"field": "I", "type": "quantitative",
   "scale": {"domain": [-0.477, 0.5], "nice": false, "zero": false},
   "axis": {"values": [-0.4, -0.2, 0, 0.2, 0.4],
    "labelExpr": "datum.value == 0 ? '0' : (datum.value < 0 ? '-' : '') + format(abs(datum.value), '.1f')",
    "title": "I [nA]", "grid": false,
    "domainColor": "#262626", "domainWidth": 1, "tickColor": "#262626", "tickSize": -6, "tickWidth": 1,
    "labelFont": "DejaVu Sans", "labelFontSize": 24, "labelColor": "#262626", "labelAlign": "center", "labelPadding": 41,
    "titleFont": "DejaVu Sans", "titleFontSize": 25, "titleFontWeight": "normal", "titleColor": "#262626",
    "titleX": -73, "titleY": 234, "titleAngle": 270, "titleBaseline": "middle", "titleAlign": "center"}},
  "detail": {"field": "s"}
 }},
{"data": {"values": [{"label": "35 °C\u00a0\u00a0Deactivation"}]},
 "mark": {"type": "text", "align": "right", "baseline": "alphabetic", "fontSize": 19, "font": "DejaVu Sans", "color": "black", "dx": -1, "dy": 4},
 "encoding": {
  "text": {"field": "label"},
  "x": {"datum": 0.698, "type": "quantitative"},
  "y": {"datum": 0.5, "type": "quantitative",
   "axis": {"orient": "right", "labels": false, "ticks": false, "domain": false, "grid": false,
    "title": "BBP Channelpedia ID 31808 rep 1", "titleAngle": 270, "titleX": 13, "titleY": 234,
    "titleBaseline": "middle", "titleAlign": "center", "titleFont": "DejaVu Sans", "titleFontSize": 14,
    "titleFontWeight": "normal", "titleColor": "black"}}
 }}
],
"resolve": {"axis": {"y": "independent"}}
}
